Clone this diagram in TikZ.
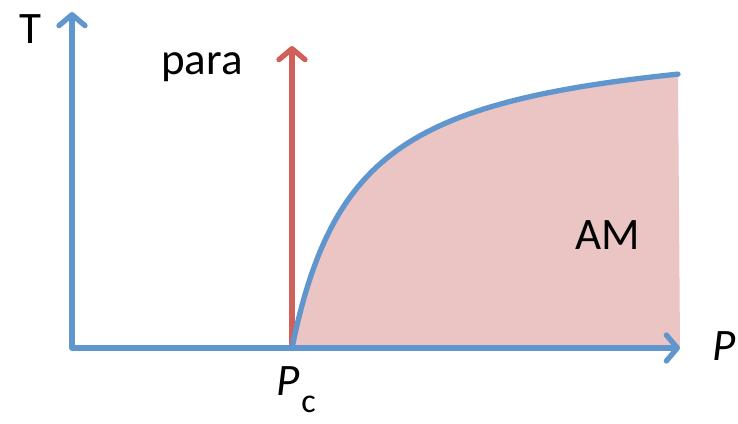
\documentclass[tikz,border=0pt]{standalone}
\usepackage{fontspec}
\setmainfont{Carlito}
\usetikzlibrary{arrows.meta}
\definecolor{axblue}{RGB}{96,150,206}
\definecolor{axred}{RGB}{208,96,90}
\definecolor{amfill}{RGB}{235,196,196}
\begin{document}
\begin{tikzpicture}[x=1pt,y=-1pt,
  axis/.style={line width=5.3pt,line cap=round,-{Straight Barb[length=11pt,width=26pt,line join=round,line cap=round]}},
  bound/.style={axblue,line width=5.3pt,line cap=round},
  lbl/.style={font=\fontsize{45}{50}\selectfont,inner sep=0pt}]
\useasboundingbox (0,0) rectangle (738,423);
\coordinate (O) at (72,348);
\coordinate (Ttop) at (72,12);
\coordinate (Pend) at (680,348);
\coordinate (Pc) at (292,348);
\coordinate (Rtop) at (292,46);
\coordinate (Cend) at (678,77);
% AM region
\fill[amfill] plot[domain=0:386,samples=120,variable=\t] ({292+\t},{348-320*(\t/(65+\t))}) -- (680,348) -- cycle;
% red arrow
\draw[axis,draw=axred] (Pc) -- (Rtop);
% axes
\draw[axis,draw=axblue] (O) -- (Ttop);
\draw[axis,draw=axblue] (O) -- (Pend);
% boundary curve
\draw[bound] plot[domain=0:386,samples=120,variable=\t] ({292+\t},{348-320*(\t/(65+\t))});
% labels
\node[lbl] (T) at (30,29) {T};
\node[lbl] (para) at (202,67) {para};
\node[lbl] (AM) at (608,235) {AM};
\node[lbl] (P) at (724,346) {\itshape P};
\node[lbl,anchor=base west] (Pcl) at (276,395) {\itshape P\kern2pt\raisebox{-17pt}{\upshape\fontsize{34}{38}\selectfont c}};
\end{tikzpicture}
\end{document}
